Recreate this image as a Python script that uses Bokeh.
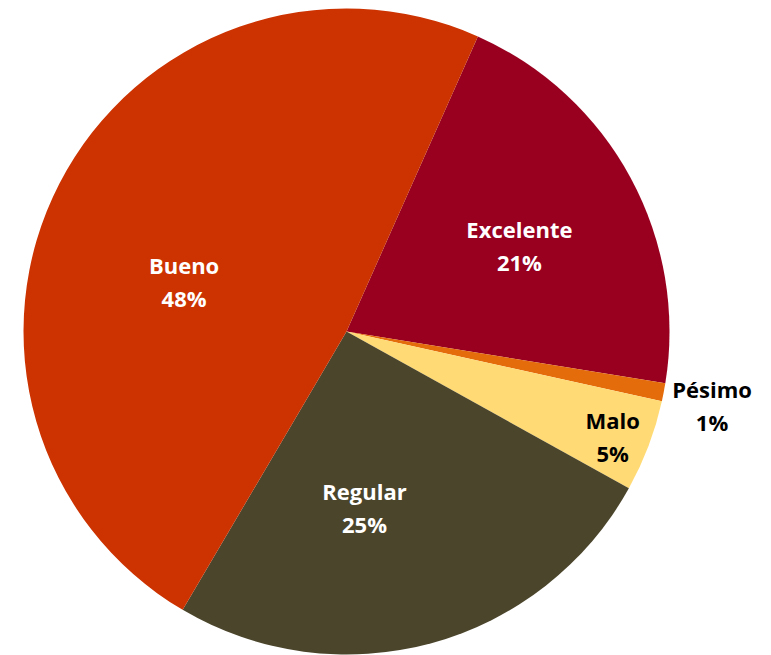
import math
from bokeh.plotting import figure
from bokeh.models import Range1d, ColumnDataSource
from bokeh.core.properties import value
from bokeh.embed import file_html
from bokeh.resources import INLINE

# Data (percent shares, clockwise from the top boundary)
categories = ["Excelente", "Pésimo", "Malo", "Regular", "Bueno"]
shares = [20.9, 0.9, 4.6, 25.4, 48.2]
colors = ["#990020", "#E46C0A", "#FFDA75", "#4B452C", "#CC3300"]
text_colors = ["white", "black", "black", "white", "white"]
start_deg = 24.0  # clockwise from 12 o'clock

# label placement (angle offset from slice middle, radius in px)
label_angle_offset = [2.0, 0.6, 0.7, 9.4, -10.1]
label_radius = [193, 373, 286, 177, 170]

W, H = 771, 655
cx, cy, R = 346, 655 - 331, 323

p = figure(width=W, height=H, output_backend="svg", toolbar_location=None,
           x_range=Range1d(0, W), y_range=Range1d(655 - H, 655),
           min_border=0)
p.axis.visible = False
p.grid.visible = False
p.outline_line_color = None

starts, ends, mids = [], [], []
acc = start_deg
total = sum(shares)
for s in shares:
    a0 = acc
    a1 = acc + s / total * 360.0
    starts.append(math.radians(90 - a0))
    ends.append(math.radians(90 - a1))
    mids.append((a0 + a1) / 2)
    acc = a1

src = ColumnDataSource(dict(start=starts, end=ends, color=colors))
p.wedge(x=cx, y=cy, radius=R, start_angle="start", end_angle="end",
        direction="clock", fill_color="color", line_color=None, source=src)

lx, ly, names, pcts = [], [], [], []
for i, c in enumerate(categories):
    th = math.radians(mids[i] + label_angle_offset[i])
    r = label_radius[i]
    lx.append(cx + r * math.sin(th))
    ly.append(cy + r * math.cos(th))
    names.append(c)
    pcts.append(f"{round(shares[i])}%")

lsrc = ColumnDataSource(dict(x=lx, yn=[y + 16.5 for y in ly], yp=[y - 16.5 for y in ly],
                             name=names, pct=pcts, tc=text_colors))
for ycol, tcol in (("yn", "name"), ("yp", "pct")):
    p.text(x="x", y=ycol, text=tcol, source=lsrc, text_color="tc",
           text_font=value("Open Sans"), text_font_style="bold", text_font_size="22px",
           text_align="center", text_baseline="middle")

open("out.html", "w").write(file_html(p, INLINE))
